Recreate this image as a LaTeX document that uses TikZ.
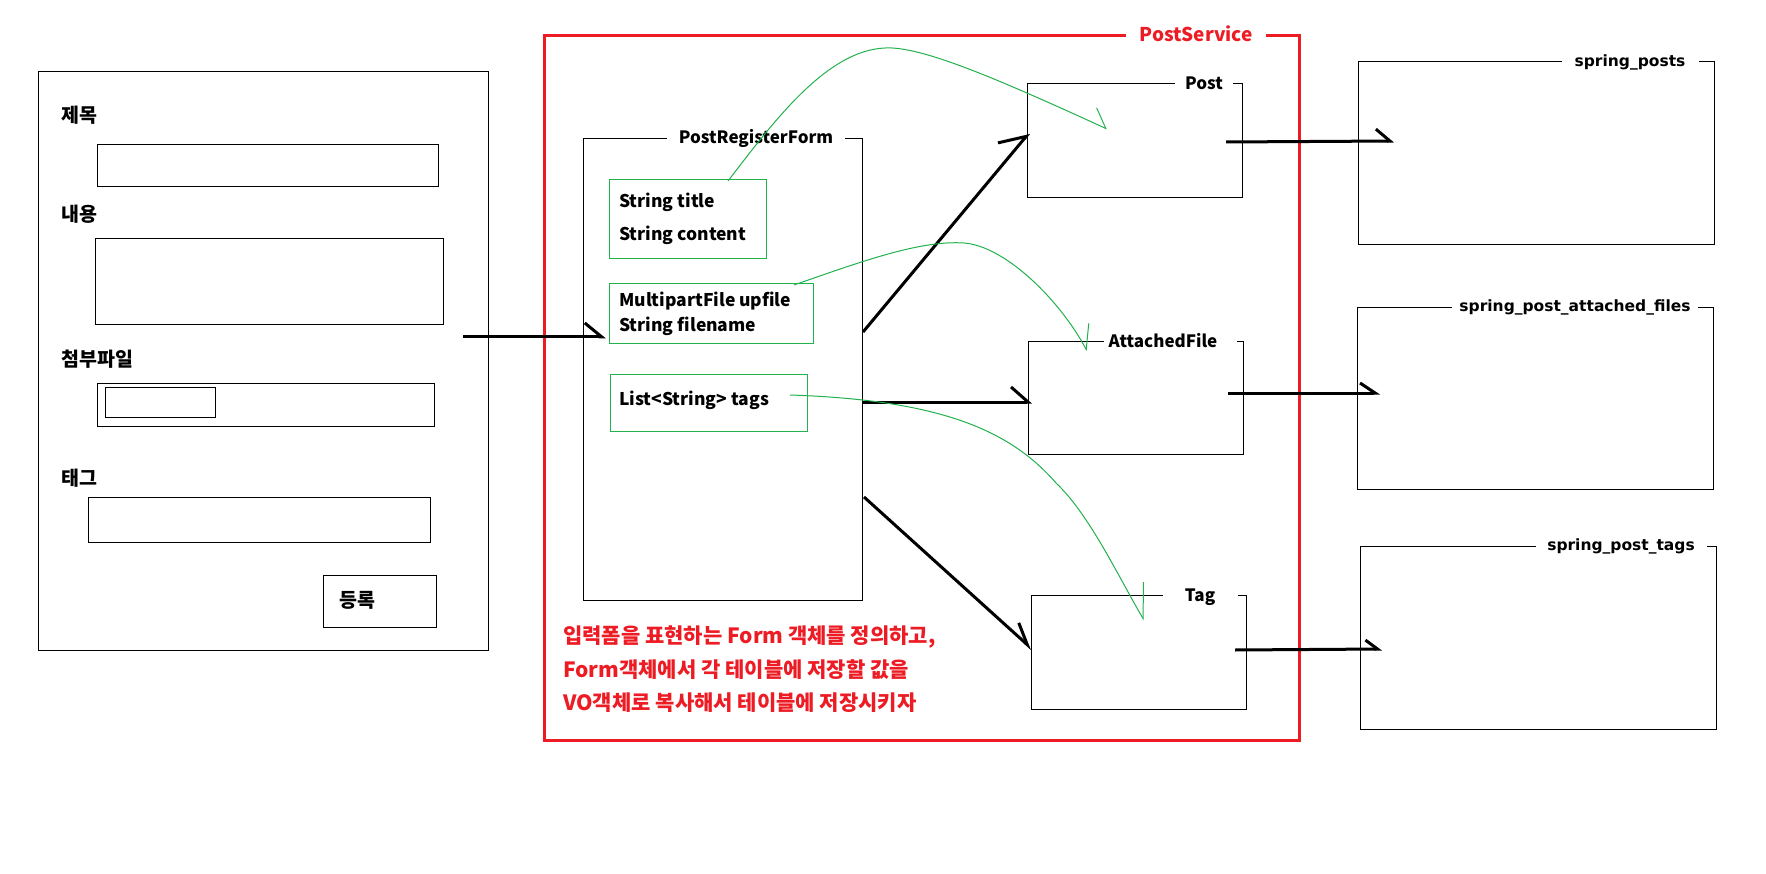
\documentclass[tikz,border=0pt]{standalone}
\usepackage{fontspec}
\setmainfont{Noto Sans CJK KR}
\newfontfamily\dvs{DejaVu Sans}
\usetikzlibrary{arrows.meta,calc}
\definecolor{pred}{RGB}{237,28,36}
\definecolor{pgreen}{RGB}{34,177,76}
\begin{document}
\begin{tikzpicture}[x=1pt,y=-1pt,
 box/.style={draw=black, line width=1pt, inner sep=0pt, anchor=north west},
 gbox/.style={draw=pgreen, line width=1pt, inner sep=0pt, anchor=north west},
 ttl/.style={fill=white, inner sep=0pt, minimum height=18pt, font=\fontsize{17}{20}\selectfont\bfseries},
 dbttl/.style={fill=white, inner sep=0pt, minimum height=18pt, font=\dvs\fontsize{15.5}{18}\selectfont\bfseries},
 lab/.style={anchor=west, inner sep=0pt, font=\fontsize{17.5}{20}\selectfont\bfseries},
 krl/.style={anchor=west, inner sep=0pt, font=\fontsize{19.5}{22}\selectfont\bfseries},
 note/.style={anchor=west, inner sep=0pt, text=pred, font=\fontsize{21}{24}\selectfont\bfseries},
 blk/.style={draw=black, line width=3pt},
 grn/.style={draw=pgreen, line width=1pt},
]
\fill[white] (0,0) rectangle (1766,874);
\useasboundingbox (0,0) rectangle (1766,874);
% form mock-up
\node[box, minimum width=450pt, minimum height=579pt] (form) at (38,71) {};
\node[krl] (l1) at (61,115) {제목};
\node[box, minimum width=341pt, minimum height=42pt] (f1) at (97,144) {};
\node[krl] (l2) at (61,214) {내용};
\node[box, minimum width=348pt, minimum height=86pt] (f2) at (95,238) {};
\node[krl] (l3) at (61,359) {첨부파일};
\node[box, minimum width=337pt, minimum height=43pt] (f3) at (97,383) {};
\node[box, minimum width=110pt, minimum height=30pt] (f3b) at (105,387) {};
\node[krl] (l4) at (61,478) {태그};
\node[box, minimum width=342pt, minimum height=45pt] (f4) at (88,497) {};
\node[box, minimum width=113pt, minimum height=52pt] (btn) at (323,575) {};
\node[krl] (btnl) at (339,600) {등록};
% service
\node[draw=pred, line width=3pt, inner sep=0pt, anchor=north west, minimum width=755pt, minimum height=705pt] (svc) at (543,34) {};
\node[fill=white, inner sep=0pt, minimum width=140pt, minimum height=20pt, text=pred, font=\fontsize{19}{22}\selectfont\bfseries] (svct) at (1196,34) {PostService};
\node[box, minimum width=279pt, minimum height=462pt] (prf) at (583,138) {};
\node[ttl, minimum width=178pt] (prft) at (756,138) {PostRegisterForm};
\node[gbox, minimum width=157pt, minimum height=79pt] (g1) at (609,179) {};
\node[lab] (g1a) at (619,202) {String title};
\node[lab] (g1b) at (619,235) {String content};
\node[gbox, minimum width=204pt, minimum height=60pt] (g2) at (609,283) {};
\node[lab] (g2a) at (619,301) {MultipartFile upfile};
\node[lab] (g2b) at (619,326) {String filename};
\node[gbox, minimum width=197pt, minimum height=57pt] (g3) at (610,374) {};
\node[lab] (g3a) at (619,400) {List<String> tags};
\node[box, minimum width=215pt, minimum height=114pt] (post) at (1027,83) {};
\node[ttl, minimum width=58pt] (postt) at (1204,83) {Post};
\node[box, minimum width=215pt, minimum height=113pt] (att) at (1028,341) {};
\node[ttl, minimum width=133pt] (attt) at (1170,341) {AttachedFile\kern14pt};
\node[box, minimum width=215pt, minimum height=114pt] (tag) at (1031,595) {};
\node[ttl, minimum width=75pt] (tagt) at (1200,597) {Tag};
\node[note] (n1) at (563,637) {입력폼을 표현하는 Form 객체를 정의하고,};
\node[note] (n2) at (563,670) {Form객체에서 각 테이블에 저장할 값을};
\node[note] (n3) at (563,703) {VO객체로 복사해서 테이블에 저장시키자};
% tables
\node[box, minimum width=356pt, minimum height=183pt] (sp) at (1358,61) {};
\node[dbttl, minimum width=137pt] (spt) at (1630,62) {spring\_posts};
\node[box, minimum width=356pt, minimum height=182pt] (spa) at (1357,307) {};
\node[dbttl, minimum width=246pt] (spat) at (1575,307) {spring\_post\_attached\_files};
\node[box, minimum width=356pt, minimum height=183pt] (spg) at (1360,546) {};
\node[dbttl, minimum width=171pt] (spgt) at (1621,546) {spring\_post\_tags};
% black arrows
\draw[blk, -{Straight Barb[harpoon,length=17pt,width=28pt]}] ($(form.north east)+(-26,266)$) -- ($(prf.north west)+(23,199)$);
\draw[blk, -{Straight Barb[harpoon,length=23pt,width=35pt]}] ($(prf.north east)+(0,194)$) -- ($(post.north west)+(2,50)$);
\draw[blk, -{Straight Barb[harpoon,length=17pt,width=30pt]}] ($(prf.north east)+(-1,264)$) -- ($(att.north west)+(4,61)$);
\draw[blk, -{Straight Barb[harpoon,length=21pt,width=21pt]}] ($(prf.north east)+(1,359)$) -- ($(tag.north west)+(1,54)$);
\draw[blk, -{Straight Barb[harpoon,length=14pt,width=24pt]}] ($(post.north east)+(-17,59)$) -- ($(sp.north west)+(36,80)$);
\draw[blk, -{Straight Barb[harpoon,length=15pt,width=20pt]}] ($(att.north east)+(-16,52)$) -- ($(spa.north west)+(23,86)$);
\draw[blk, -{Straight Barb[harpoon,length=12pt,width=18pt]}] ($(tag.north east)+(-12,55)$) -- ($(spg.north west)+(22,103)$);
% green mapping curves
\draw[grn, -{Straight Barb[harpoon,length=17pt,width=30pt]}] ($(g1.north west)+(119,2)$) .. controls (775,120) and (830,45) .. (892,48) .. controls (930,50) and (1000,80) .. ($(post.north west)+(80,46)$);
\draw[grn, -{Straight Barb[harpoon,length=22pt,width=29pt]}] ($(g2.north west)+(185,2)$) .. controls (860,262) and (920,240) .. (964,243) .. controls (1005,246) and (1060,300) .. ($(att.north west)+(59,10)$);
\draw[grn, -{Straight Barb[harpoon,length=31pt,width=38pt]}] ($(g3.north west)+(180,21)$) .. controls (940,400) and (1010,430) .. (1056,483) .. controls (1090,515) and (1120,580) .. ($(tag.north west)+(113,25)$);
\end{tikzpicture}
\end{document}
